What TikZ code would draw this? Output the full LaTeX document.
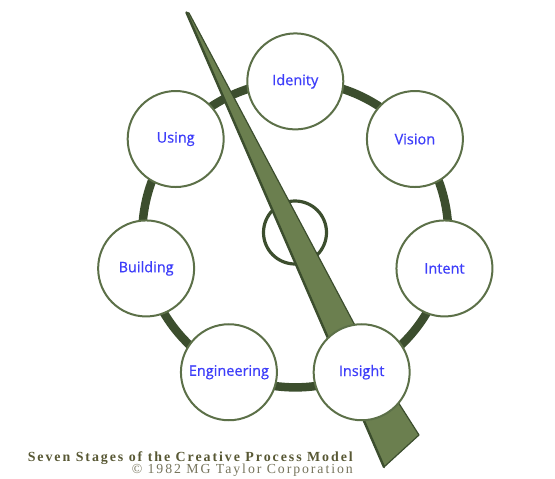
\documentclass[tikz,border=0pt]{standalone}
\usepackage{fontspec}
\setmainfont{Liberation Serif}
\newfontfamily\labelfont[FakeBold=0.6]{Open Sans}
\newfontfamily\capfont[LetterSpace=14]{Liberation Serif}
\usetikzlibrary{calc}
\definecolor{ringgreen}{RGB}{60,78,46}
\definecolor{circleline}{RGB}{92,112,72}
\definecolor{needlefill}{RGB}{107,127,79}
\definecolor{needleedge}{RGB}{60,78,46}
\definecolor{labelblue}{RGB}{62,62,250}
\definecolor{capdark}{RGB}{88,88,52}
\definecolor{caplight}{RGB}{118,116,92}
\pgfdeclarelayer{ringlayer}
\pgfdeclarelayer{needlelayer}
\pgfsetlayers{ringlayer,needlelayer,main}
\begin{document}
\begin{tikzpicture}[x=1pt,y=1pt,
  stage/.style={circle, draw=circleline, line width=2pt, fill=white,
    minimum size=96pt, inner sep=0pt,
    font=\labelfont\fontsize{14.5}{16}\selectfont, text=labelblue},
  ring/.style={draw=ringgreen, line width=8.5pt, bend left=25.7, looseness=0.9},
  hubstyle/.style={circle, draw=ringgreen, line width=3.2pt, minimum size=63pt, inner sep=0pt},
  needlestyle/.style={fill=needlefill, draw=needleedge, line width=1.2pt, line join=round},
  needlespine/.style={draw=needleedge, line width=2.4pt, line cap=round},
  captitle/.style={inner sep=0pt, anchor=east, text=capdark},
  capcopy/.style={inner sep=0pt, anchor=east, text=caplight}]
\useasboundingbox (0,0) rectangle (555,-479);
\coordinate (C) at (295.3,-234.4);
\node[stage] (idenity) at ($(C)+(90:153)$) {Idenity};
\node[stage] (vision) at ($(C)+(38.57:153)$) {Vision};
\node[stage] (intent) at ($(C)+(-12.86:153)$) {Intent};
\node[stage] (insight) at ($(C)+(-64.29:153)$) {Insight};
\node[stage] (engineering) at ($(C)+(-115.71:153)$) {Engineering};
\node[stage] (building) at ($(C)+(-167.14:153)$) {Building};
\node[stage] (using) at ($(C)+(141.43:153)$) {Using};
\begin{pgfonlayer}{ringlayer}
  \draw[ring] (idenity.center) to (vision.center) to (intent.center)
    to (insight.center) to (engineering.center) to (building.center)
    to (using.center) to (idenity.center);
  \node[hubstyle] (hub) at (295,-232.5) {};
\end{pgfonlayer}
\begin{pgfonlayer}{needlelayer}
  \coordinate (tipl) at (186.5,-12.5);
  \coordinate (tipr) at (189,-13);
  \coordinate (kink) at (384,-380);
  \coordinate (corner) at (419,-435);
  \coordinate (point) at (384,-467);
  \path[needlestyle] (tipl) -- (tipr) -- (kink) -- (corner) -- (point) -- cycle;
  \path[needlespine] (tipl) -- (point);
\end{pgfonlayer}
\node[captitle] (title) at (353,-458)
  {\resizebox{325pt}{!}{\capfont\bfseries\fontsize{12}{14}\selectfont Seven Stages of the Creative Process Model}};
\node[capcopy] (copy) at (353,-470.5)
  {\resizebox{221pt}{!}{\capfont\fontsize{12}{14}\selectfont © 1982 MG Taylor Corporation}};
\end{tikzpicture}
\end{document}
